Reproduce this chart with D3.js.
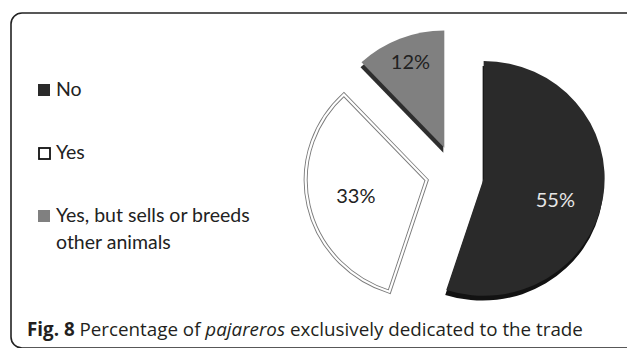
<!DOCTYPE html>
<html>
<head>
    <meta charset="utf-8">
    <title>Fig. 8 pajareros</title>
    <script src="https://cdnjs.cloudflare.com/ajax/libs/d3/7.8.5/d3.min.js"></script>
    <style type="text/css">
        html,
        body {
            margin: 0;
            background: #fff;
        }
        svg {
            display: block;
        }
        .lbl {
            font-family: Lato, sans-serif;
            font-size: 20px;
        }
        .leg text {
            font-size: 19.5px;
        }
    </style>
</head>
<body>
    <div id="chart"></div>
    <script type="text/javascript">
        // data
        var categories = ["No", "Yes", "Yes, but sells or breeds other animals"];
        var legendLines = [["No"], ["Yes"], ["Yes, but sells or breeds", "other animals"]];
        var values = [55, 33, 12];
        var valueLabels = ["55%", "33%", "12%"];

        var width = 627, height = 348;
        var fills = ["#2a2a2a", "#ffffff", "#808080"];
        var sides = ["#121212", "#ffffff", "#2e2e2e"];
        var labelColors = ["#e6e6e6", "#222", "#222"];

        var svg = d3.select("#chart").append("svg")
            .attr("width", width)
            .attr("height", height);

        // frame
        svg.append("rect")
            .attr("x", 11).attr("y", 13)
            .attr("width", 650).attr("height", 335)
            .attr("rx", 11)
            .attr("fill", "none")
            .attr("stroke", "#222")
            .attr("stroke-width", 1.6);

        // pie
        var cx = 455, cy = 174, r = 121, explode = 29;
        var pie = d3.pie().sort(null).value(function(d) { return d; });
        var arcs = pie(values);
        var arc = d3.arc().innerRadius(0).outerRadius(r);

        function offset(d, dist) {
            var a = (d.startAngle + d.endAngle) / 2;
            return [Math.sin(a) * dist, -Math.cos(a) * dist];
        }

        var g = svg.append("g")
            .attr("transform", "translate(" + cx + "," + cy + ") scale(1,0.97)");

        // 3d side
        g.selectAll("path.side")
            .data(arcs)
            .enter().append("path")
            .attr("class", "side")
            .attr("d", arc)
            .attr("fill", function(d, i) { return sides[i]; })
            .attr("transform", function(d) {
                var o = offset(d, explode);
                return "translate(" + (o[0] - 1) + "," + (o[1] + 5) + ")";
            })
            .style("display", function(d, i) { return i == 1 ? "none" : null; });

        // top faces
        var faces = g.selectAll("g.face")
            .data(arcs)
            .enter().append("g")
            .attr("class", "face")
            .attr("transform", function(d) {
                var o = offset(d, explode);
                return "translate(" + o[0] + "," + o[1] + ")";
            });

        faces.append("path")
            .attr("d", arc)
            .attr("fill", function(d, i) { return fills[i]; })
            .attr("stroke", function(d, i) { return i == 1 ? "#7a7a7a" : "none"; })
            .attr("stroke-width", 4)
            .attr("stroke-linejoin", "miter");

        // double line look on the white slice
        faces.filter(function(d, i) { return i == 1; })
            .append("path")
            .attr("d", arc)
            .attr("fill", "none")
            .attr("stroke", "#fff")
            .attr("stroke-width", 2.2);

        // value labels
        svg.selectAll("text.val")
            .data(arcs)
            .enter().append("text")
            .attr("class", "lbl val")
            .attr("text-anchor", "middle")
            .attr("fill", function(d, i) { return labelColors[i]; })
            .attr("x", function(d) {
                var lr = d.value < 20 ? r * 0.76 : r * 0.6;
                return cx + offset(d, explode)[0] + offset(d, lr)[0];
            })
            .attr("y", function(d) {
                var lr = d.value < 20 ? r * 0.76 : r * 0.6;
                // the big slice label sits a little lower in the original
                var drop = d.value > 50 ? 17 : 7;
                return cy + offset(d, explode)[1] + offset(d, lr)[1] + drop;
            })
            .text(function(d, i) { return valueLabels[i]; });

        // legend
        var ly = d3.scalePoint().domain(categories).range([96, 222]);
        var leg = svg.selectAll("g.leg")
            .data(categories)
            .enter().append("g")
            .attr("class", "leg")
            .attr("transform", function(d) { return "translate(38," + ly(d) + ")"; });

        leg.append("rect")
            .attr("x", function(d, i) { return i == 1 ? 1 : 0; })
            .attr("y", function(d, i) { return i == 1 ? -11 : -12; })
            .attr("width", function(d, i) { return i == 1 ? 11 : 12; })
            .attr("height", function(d, i) { return i == 1 ? 11 : 12; })
            .attr("fill", function(d, i) { return i == 1 ? "#fff" : fills[i]; })
            .attr("stroke", function(d, i) { return i == 1 ? "#111" : "none"; })
            .attr("stroke-width", 1.8);

        leg.append("text")
            .attr("class", "lbl")
            .attr("fill", "#222")
            .selectAll("tspan")
            .data(function(d, i) { return legendLines[i]; })
            .enter().append("tspan")
            .attr("x", 18)
            .attr("y", function(d, j) { return j * 27; })
            .text(function(d) { return d; });

        // caption
        var cap = svg.append("text")
            .attr("x", 27).attr("y", 336)
            .attr("fill", "#231f20")
            .style("font-family", "'Open Sans', sans-serif")
            .style("font-size", "18.8px");
        cap.append("tspan").style("font-weight", "bold").text("Fig. 8");
        cap.append("tspan").text(" Percentage of ");
        cap.append("tspan").style("font-style", "italic").text("pajareros");
        cap.append("tspan").text(" exclusively dedicated to the trade");
    </script>
</body>
</html>
